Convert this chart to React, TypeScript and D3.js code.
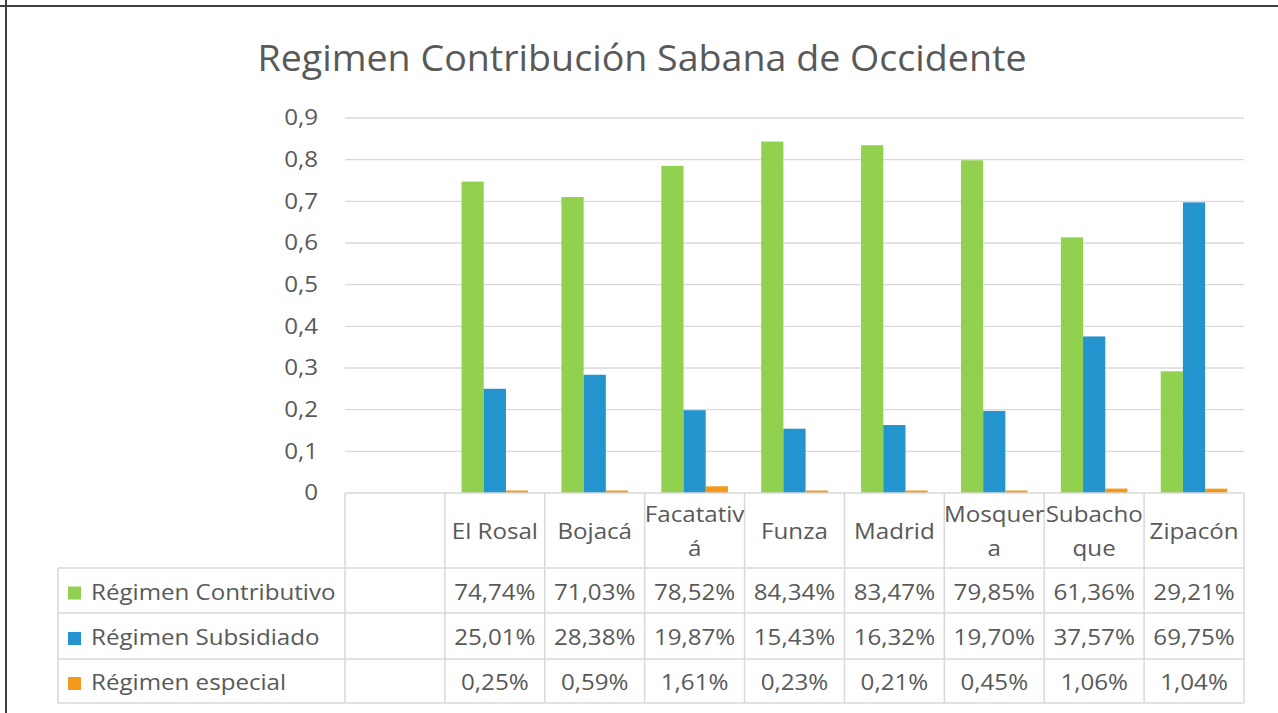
import React from "react";
import * as d3 from "d3";

const categories = ["", "El Rosal", "Bojacá", "Facatativá", "Funza", "Madrid", "Mosquera", "Subachoque", "Zipacón"];
const categoryLabels = ["", "El Rosal", "Bojacá", "Facatativ\ná", "Funza", "Madrid", "Mosquer\na", "Subacho\nque", "Zipacón"];
const seriesNames = ["Régimen Contributivo", "Régimen Subsidiado", "Régimen especial"];
const contributivo = [null, 0.7474, 0.7103, 0.7852, 0.8434, 0.8347, 0.7985, 0.6136, 0.2921];
const subsidiado = [null, 0.2501, 0.2838, 0.1987, 0.1543, 0.1632, 0.1970, 0.3757, 0.6975];
const especial = [null, 0.0025, 0.0059, 0.0161, 0.0023, 0.0021, 0.0045, 0.0106, 0.0104];
const yTicks = [0, 0.1, 0.2, 0.3, 0.4, 0.5, 0.6, 0.7, 0.8, 0.9];
const colors = ["#92D050", "#2394CD", "#F39A1D"];
const title = "Regimen Contribución Sabana de Occidente";

const W = 1278, H = 713;
const FONT = "'Open Sans', sans-serif";
const TXT = "#595959";
const SX = 1.15;
const FS = 21;

function T({ x, y, anchor = "start", size = FS, sx = SX, children }: any) {
  return (
    <g transform={`translate(${x},${y}) scale(${sx},1)`}>
      <text x={0} y={0} dy="0.35em" textAnchor={anchor} fontFamily={FONT} fontSize={size} fill={TXT}>{children}</text>
    </g>
  );
}

export default function App() {
  const series = [contributivo, subsidiado, especial];
  const x = d3.scaleBand<string>().domain(categories).range([345, 1244]).paddingInner(0).paddingOuter(0);
  const y = d3.scaleLinear().domain([0, 0.9]).range([493, 118]);
  const bw = x.bandwidth() / 4.5;
  const fmt = (v: number) => (v * 100).toFixed(2).replace(".", ",") + "%";
  const tickFmt = (v: number) => (v === 0 ? "0" : v.toFixed(1).replace(".", ","));
  const rowTop = [568, 613, 659];
  const rowBot = [613, 659, 703];
  const gridColor = "#D9D9D9";
  return (
    <svg width={W} height={H} style={{ position: "absolute", left: 0, top: 0, background: "#fff" }}>
      <rect x={0} y={0} width={W} height={H} fill="#fff" />
      <line x1={6} y1={0} x2={6} y2={H} stroke="#404040" strokeWidth={2} />
      <line x1={0} y1={6} x2={W} y2={6} stroke="#404040" strokeWidth={2} />
      <T x={642} y={58} anchor="middle" size={36} sx={1.045}>{title}</T>
      {yTicks.map((t) => (
        <g key={t}>
          {t > 0 && <line x1={345} x2={1244} y1={y(t)} y2={y(t)} stroke={gridColor} strokeWidth={1.3} />}
          <T x={318} y={y(t)} anchor="end">{tickFmt(t)}</T>
        </g>
      ))}
      {series.map((s, si) =>
        categories.map((c, ci) => {
          const v = s[ci];
          if (v == null) return null;
          const x0 = (x(c) as number) + bw * 0.75 + si * bw;
          const h = Math.max(y(0) - y(v), 2.5);
          return <rect key={si + "-" + ci} x={x0} y={y(0) - h} width={bw} height={h} fill={colors[si]} />;
        })
      )}
      {/* table */}
      <line x1={345} x2={1244} y1={493} y2={493} stroke={gridColor} strokeWidth={1.5} />
      {rowTop.map((r, i) => (
        <line key={"h" + i} x1={58} x2={1244} y1={r} y2={r} stroke={gridColor} strokeWidth={1.5} />
      ))}
      <line x1={58} x2={1244} y1={703} y2={703} stroke={gridColor} strokeWidth={1.5} />
      <line x1={58} x2={58} y1={568} y2={703} stroke={gridColor} strokeWidth={1.5} />
      {categories.map((c) => (
        <line key={"v" + c} x1={x(c) as number} x2={x(c) as number} y1={493} y2={703} stroke={gridColor} strokeWidth={1.5} />
      ))}
      <line x1={1244} x2={1244} y1={493} y2={703} stroke={gridColor} strokeWidth={1.5} />
      {categories.map((c, ci) => {
        const lines = categoryLabels[ci].split("\n");
        const cx = (x(c) as number) + x.bandwidth() / 2;
        const cy = 532;
        const lh = 34;
        return (
          <g key={"c" + ci}>
            {lines.map((l, li) => (
              <T key={li} x={cx} y={cy + (li - (lines.length - 1) / 2) * lh} anchor="middle">{l}</T>
            ))}
          </g>
        );
      })}
      {series.map((s, si) => {
        const cy = (rowTop[si] + rowBot[si]) / 2 + 2;
        return (
          <g key={"r" + si}>
            <rect x={68} y={cy - 6} width={13} height={13} fill={colors[si]} />
            <T x={91} y={cy}>{seriesNames[si]}</T>
            {categories.map((c, ci) => {
              const v = s[ci];
              if (v == null) return null;
              return <T key={ci} x={(x(c) as number) + x.bandwidth() / 2} y={cy} anchor="middle">{fmt(v)}</T>;
            })}
          </g>
        );
      })}
    </svg>
  );
}
